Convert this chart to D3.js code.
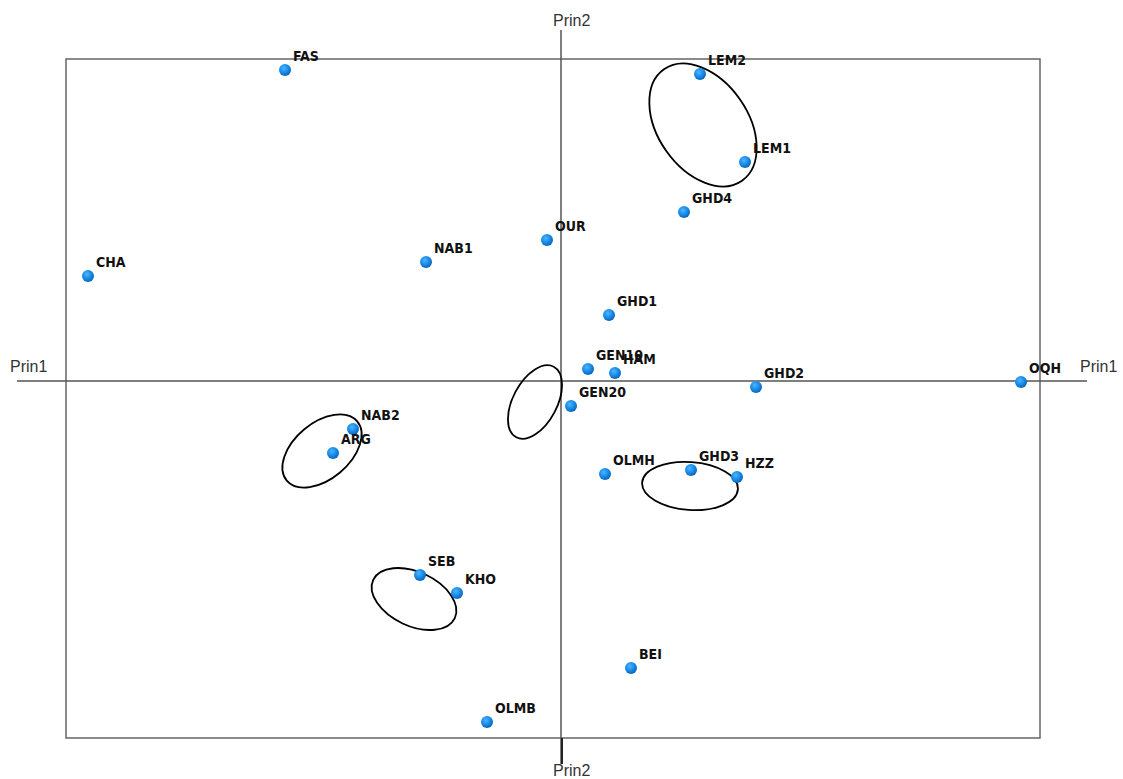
<!DOCTYPE html>
<html lang="en">
<head>
    <meta charset="UTF-8">
    <title>Prin1 vs Prin2</title>
    <script src="https://d3js.org/d3.v7.min.js"></script>
    <style>
        body { margin: 0; background: #fff; }
        .axis-label {
            font: 16px "Liberation Sans", Arial, sans-serif;
            fill: #333;
        }
        .pt-label {
            font-family: "Liberation Sans Narrow", "DejaVu Sans Condensed", "Liberation Sans", sans-serif;
            font-stretch: condensed;
            font-weight: bold;
            font-size: 14px;
            fill: #111;
        }
    </style>
</head>
<body>
<script>
// point names and their scores on the first two principal components
const names = ["FAS", "LEM2", "LEM1", "GHD4", "OUR", "NAB1", "CHA", "GHD1", "GEN10", "HAM",
    "GHD2", "OQH", "GEN20", "NAB2", "ARG", "OLMH", "GHD3", "HZZ", "SEB", "KHO", "BEI", "OLMB"];
const prin1 = [-2.76, 1.39, 1.84, 1.23, -0.14, -1.35, -4.73, 0.48, 0.27, 0.54,
    1.95, 4.60, 0.10, -2.08, -2.28, 0.44, 1.30, 1.76, -1.41, -1.04, 0.70, -0.74];
const prin2 = [3.11, 3.07, 2.19, 1.69, 1.41, 1.19, 1.05, 0.66, 0.12, 0.08,
    -0.06, -0.01, -0.25, -0.48, -0.72, -0.93, -0.89, -0.96, -1.94, -2.12, -2.87, -3.41];

// group ellipses: centre, semi-axes (data units) and tilt in degrees
const ellCx = [1.42, -0.26, -2.39, 1.29, -1.47];
const ellCy = [2.56, -0.21, -0.70, -1.05, -2.18];
const ellRx = [0.68, 0.40, 0.46, 0.48, 0.45];
const ellRy = [0.45, 0.22, 0.28, 0.24, 0.27];
const ellTilt = [55, -62, -40, 4, 25];

const W = 1123, H = 779;
const frame = {left: 66, right: 1040, top: 59, bottom: 738};

const svg = d3.select("body").append("svg")
    .attr("width", W)
    .attr("height", H);

const x = d3.scaleLinear().domain([-4.95, 4.79]).range([frame.left, frame.right]);
const y = d3.scaleLinear().domain([-3.57, 3.22]).range([frame.bottom, frame.top]);

// gradient for the dots
const grad = svg.append("defs").append("radialGradient")
    .attr("id", "dot")
    .attr("cx", "40%").attr("cy", "35%").attr("r", "65%");
grad.append("stop").attr("offset", "0%").attr("stop-color", "#4fb4ff");
grad.append("stop").attr("offset", "60%").attr("stop-color", "#1689e6");
grad.append("stop").attr("offset", "100%").attr("stop-color", "#0a66b8");

// frame
svg.append("rect")
    .attr("x", frame.left)
    .attr("y", frame.top)
    .attr("width", frame.right - frame.left)
    .attr("height", frame.bottom - frame.top)
    .attr("fill", "none")
    .attr("stroke", "#666")
    .attr("stroke-width", 1.5);

// axes through the origin
svg.append("line")
    .attr("x1", 17).attr("x2", 1087)
    .attr("y1", y(0)).attr("y2", y(0))
    .attr("stroke", "#555").attr("stroke-width", 1.5);
svg.append("line")
    .attr("x1", x(0)).attr("x2", x(0))
    .attr("y1", 30).attr("y2", 764)
    .attr("stroke", "#555").attr("stroke-width", 1.5);
svg.append("line")
    .attr("x1", x(0) + 1).attr("x2", x(0) + 1)
    .attr("y1", frame.bottom).attr("y2", 764)
    .attr("stroke", "#222").attr("stroke-width", 2);

svg.append("text").attr("class", "axis-label")
    .attr("x", x(0) - 8).attr("y", 26).text("Prin2");
svg.append("text").attr("class", "axis-label")
    .attr("x", x(0) - 8).attr("y", 776).text("Prin2");
svg.append("text").attr("class", "axis-label")
    .attr("x", 10).attr("y", 372).text("Prin1");
svg.append("text").attr("class", "axis-label")
    .attr("x", 1080).attr("y", 372).text("Prin1");

// ellipses
const ells = d3.range(ellCx.length);
svg.selectAll(".ell")
    .data(ells)
    .enter()
    .append("ellipse")
    .attr("class", "ell")
    .attr("transform", i => `translate(${x(ellCx[i])},${y(ellCy[i])}) rotate(${ellTilt[i]})`)
    .attr("rx", i => x(ellRx[i]) - x(0))
    .attr("ry", i => y(0) - y(ellRy[i]))
    .attr("fill", "none")
    .attr("stroke", "#000")
    .attr("stroke-width", 1.8);

// points
const data = names.map((n, i) => ({name: n, p1: prin1[i], p2: prin2[i]}));

svg.selectAll(".dot")
    .data(data)
    .enter()
    .append("circle")
    .attr("class", "dot")
    .attr("cx", d => x(d.p1))
    .attr("cy", d => y(d.p2))
    .attr("r", 6)
    .attr("fill", "url(#dot)");

svg.selectAll(".pt-label")
    .data(data)
    .enter()
    .append("text")
    .attr("class", "pt-label")
    .attr("x", d => x(d.p1) + 8)
    .attr("y", d => y(d.p2) - 9)
    .text(d => d.name);
</script>
</body>
</html>
